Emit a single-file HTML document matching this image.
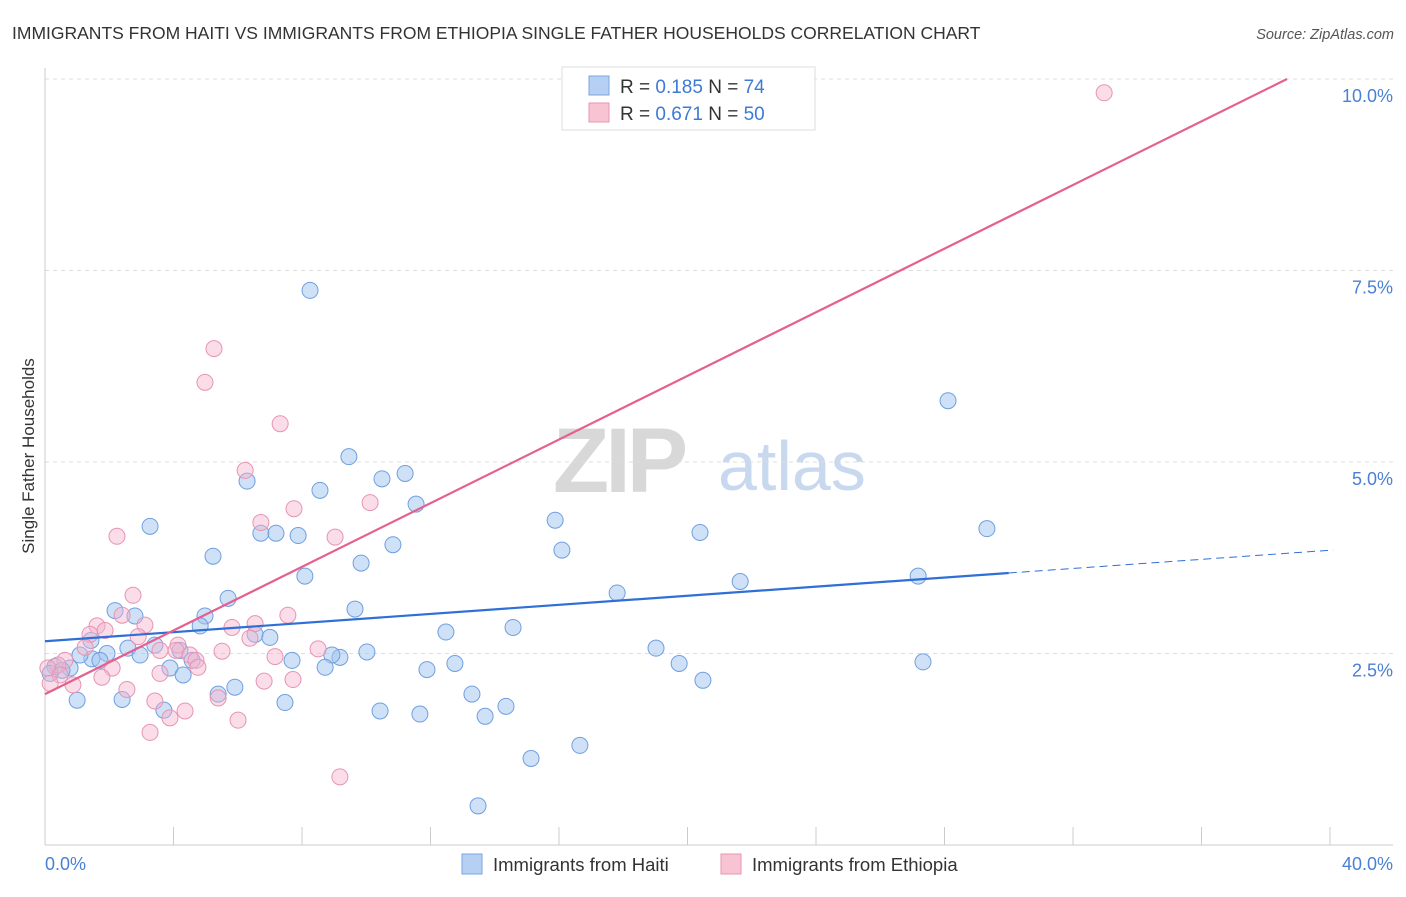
<!DOCTYPE html>
<html><head><meta charset="utf-8"><style>
body{margin:0;background:#fff;font-family:"Liberation Sans",sans-serif;}
svg text{font-family:"Liberation Sans",sans-serif;}
</style></head><body>
<svg id="chart" width="1406" height="892" xmlns="http://www.w3.org/2000/svg">
<text x="12" y="39" font-size="17.5" fill="#333">IMMIGRANTS FROM HAITI VS IMMIGRANTS FROM ETHIOPIA SINGLE FATHER HOUSEHOLDS CORRELATION CHART</text>
<text x="1394" y="39" font-size="14.5" fill="#555" font-style="italic" text-anchor="end">Source: ZipAtlas.com</text>
<text transform="translate(34,456) rotate(-90)" font-size="17" fill="#333" text-anchor="middle">Single Father Households</text>
<g>
<text x="553" y="492" font-size="92" fill="#d8d8d8" font-family="Liberation Serif" font-weight="bold" letter-spacing="-4">ZIP</text>
<text x="718" y="490" font-size="70" fill="#c8d8ee">atlas</text>
</g>
<g id="grid"></g>
<g id="axes"></g>
<g id="pts"></g>
<g id="lines"></g>
<g>
<rect x="562" y="67" width="253" height="63" fill="#fff" stroke="#ddd"/>
<rect x="589" y="76" width="20" height="19" fill="#b5d0f3" stroke="#7aa6e0"/>
<text x="620" y="93" font-size="19" fill="#333">R = <tspan fill="#3d7ad6">0.185</tspan>   N = <tspan fill="#3d7ad6">74</tspan></text>
<rect x="589" y="103" width="20" height="19" fill="#f8c4d4" stroke="#e995b2"/>
<text x="620" y="120" font-size="19" fill="#333">R = <tspan fill="#3d7ad6">0.671</tspan>   N = <tspan fill="#3d7ad6">50</tspan></text>
</g>
<g>
<rect x="462" y="854" width="20" height="20" fill="#b5d0f3" stroke="#7aa6e0"/>
<text x="493" y="871" font-size="18.5" fill="#333">Immigrants from Haiti</text>
<rect x="721" y="854" width="20" height="20" fill="#f8c4d4" stroke="#e995b2"/>
<text x="752" y="871" font-size="18.5" fill="#333">Immigrants from Ethiopia</text>
</g>
</svg>
<script>
const haitiX=[8.25,28.11,9.46,6.29,10.49,11.21,8.56,11.55,3.27,15.88,20.39,29.32,6.72,7.19,7.88,10.83,5.23,16.09,9.84,8.09,21.64,27.18,17.81,5.70,2.18,2.80,4.98,9.65,4.83,14.57,12.48,6.54,7.00,2.58,3.42,1.93,2.96,4.20,1.46,1.71,19.02,10.02,9.18,8.93,7.69,4.58,19.74,27.33,12.76,8.72,11.89,3.89,4.30,0.78,0.31,0.53,0.16,20.48,5.91,5.39,13.29,1.00,2.40,7.47,10.43,11.67,3.70,14.35,13.70,16.65,15.13,13.48,1.43,1.09];
const haitiY=[7.24,5.80,5.07,4.75,4.78,4.85,4.63,4.45,4.16,4.24,4.08,4.13,4.07,4.07,4.04,3.92,3.77,3.85,3.68,3.51,3.44,3.51,3.29,3.22,3.06,2.99,2.99,3.08,2.86,2.84,2.78,2.75,2.71,2.57,2.61,2.50,2.48,2.54,2.43,2.41,2.57,2.52,2.45,2.48,2.41,2.41,2.37,2.39,2.37,2.32,2.29,2.31,2.22,2.31,2.33,2.28,2.24,2.15,2.06,1.97,1.97,1.89,1.90,1.86,1.75,1.71,1.76,1.81,1.68,1.30,1.13,0.51,2.67,2.48];
const ethX=[32.97,5.26,4.98,7.32,6.23,10.12,7.75,6.72,9.03,2.24,2.74,2.40,7.56,3.11,6.54,1.62,1.87,1.40,2.90,4.14,5.82,8.50,4.08,4.51,5.51,4.70,7.16,1.25,3.58,2.09,0.62,0.40,0.09,0.47,1.77,7.72,6.82,3.58,4.76,2.55,0.87,3.42,5.39,4.36,3.89,6.01,3.27,9.18,6.38,0.16];
const ethY=[9.82,6.48,6.04,5.50,4.89,4.47,4.39,4.21,4.02,4.03,3.26,3.00,3.00,2.87,2.89,2.86,2.80,2.75,2.72,2.61,2.84,2.56,2.54,2.48,2.53,2.41,2.46,2.58,2.54,2.31,2.41,2.35,2.31,2.22,2.19,2.16,2.14,2.24,2.32,2.03,2.09,1.88,1.92,1.75,1.66,1.63,1.47,0.89,2.70,2.11];
const yTicks=[2.5,5.0,7.5,10.0];
const yTickLabels=["2.5%","5.0%","7.5%","10.0%"];
const xTicks=[0,4,8,12,16,20,24,28,32,36,40];
const haitiFit=[2.66,0.0297];
const ethFit=[1.97,0.2077];
const NS="http://www.w3.org/2000/svg";
const X0=45,X1=1330,Y0=845,YT=79;
function sx(v){return X0+(X1-X0)*v/40;}
function sy(v){return Y0-(Y0-YT)*v/10;}
function mk(tag,attrs,parent){const e=document.createElementNS(NS,tag);for(const k in attrs)e.setAttribute(k,attrs[k]);document.getElementById(parent).appendChild(e);return e;}
yTicks.forEach((t,i)=>{
 const l=mk('line',{x1:X0,x2:1393,y1:sy(t),y2:sy(t),stroke:'#ddd','stroke-dasharray':'4,4'},'grid');
 
 
 const tx=mk('text',{x:1393,y:sy(t)+23,'font-size':18,fill:'#4a80d4','text-anchor':'end'},'grid');
 tx.textContent=yTickLabels[i];
 
 
});
const ax=mk('line',{x1:X0,x2:1393,y1:Y0,y2:Y0,stroke:'#ccc'},'axes');


const ay=mk('line',{x1:X0,x2:X0,y1:68,y2:Y0,stroke:'#ccc'},'axes');


xTicks.forEach(t=>{
 const l=mk('line',{x1:sx(t),x2:sx(t),y1:Y0,y2:Y0-18,stroke:'#ccc'},'axes');
 
 
});
const xl0=mk('text',{x:45,y:870,'font-size':18,fill:'#4a80d4'},'axes');xl0.textContent='0.0%';


const xl1=mk('text',{x:1393,y:870,'font-size':18,fill:'#4a80d4','text-anchor':'end'},'axes');xl1.textContent='40.0%';


haitiX.forEach((v,i)=>{
 const c=mk('circle',{cx:sx(v),cy:sy(haitiY[i]),r:8,fill:'rgba(160,195,240,0.5)',stroke:'#6f9fe0','stroke-width':1},'pts');
 
 
});
ethX.forEach((v,i)=>{
 const c=mk('circle',{cx:sx(v),cy:sy(ethY[i]),r:8,fill:'rgba(245,180,205,0.45)',stroke:'#e894b2','stroke-width':1},'pts');
 
 
});
const hx1=30,hx2=40.1;
const hl=mk('line',{x1:sx(0),y1:sy(haitiFit[0]),x2:sx(hx1),y2:sy(haitiFit[0]+haitiFit[1]*hx1),stroke:'#2f6fd6','stroke-width':2.2},'lines');


const hd=mk('line',{x1:sx(hx1),y1:sy(haitiFit[0]+haitiFit[1]*hx1),x2:sx(hx2),y2:sy(haitiFit[0]+haitiFit[1]*hx2),stroke:'#2f6fd6','stroke-width':1,'stroke-dasharray':'8,5'},'lines');


const ex=(10-ethFit[0])/ethFit[1];
const el=mk('line',{x1:sx(0),y1:sy(ethFit[0]),x2:sx(ex),y2:sy(10),stroke:'#e5608e','stroke-width':2.2},'lines');


</script>
</body></html>
